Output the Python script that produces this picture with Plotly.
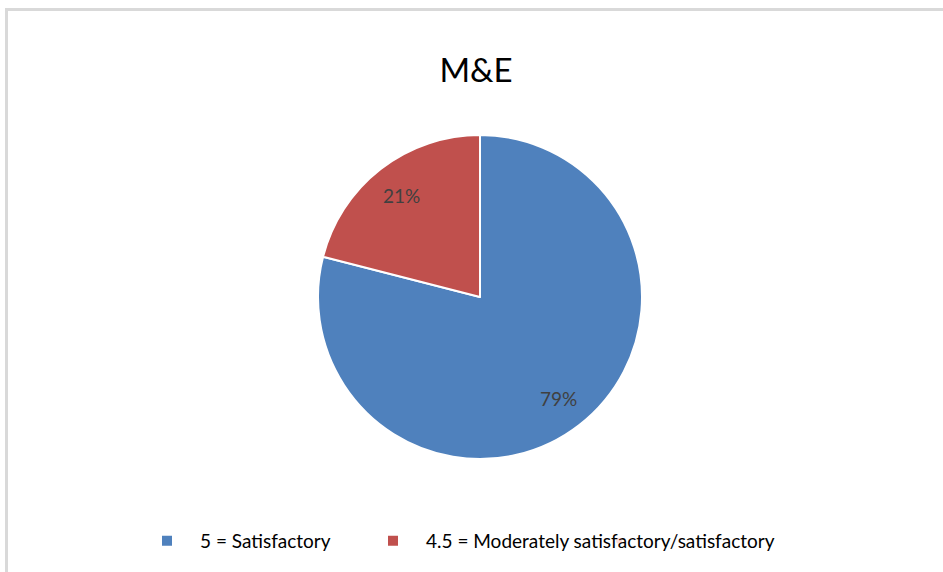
import math
import plotly.graph_objects as go

labels = ["5 = Satisfactory", "4.5 = Moderately satisfactory/satisfactory"]
values = [79, 21]
colors = ["#4F81BD", "#C0504D"]
title_text = "M&E"

W, H = 943, 572
cx, cy, R = 480, 297, 162  # pie centre and radius in pixels
FONT = "Lato, Carlito, sans-serif"

fig = go.Figure()
fig.add_trace(go.Pie(
    labels=labels,
    values=values,
    sort=False,
    direction="clockwise",
    rotation=0,
    marker=dict(colors=colors, line=dict(color="white", width=2)),
    textinfo="none",
    hoverinfo="label+percent",
    domain=dict(x=[(cx - R) / W, (cx + R) / W], y=[1 - (cy + R) / H, 1 - (cy - R) / H]),
))
# empty trailing legend entry so that the fixed-width legend does not clip the long label
fig.add_trace(go.Scatter(x=[None], y=[None], mode="markers", name="",
                         marker=dict(opacity=0), showlegend=True, hoverinfo="skip"))

# percentage labels placed along each slice's mid-angle
total = sum(values)
cum = 0
annotations = []
for v in values:
    mid = (cum + v / 2) / total * 2 * math.pi
    cum += v
    r = 0.79 * R
    px = cx + r * math.sin(mid)
    py = cy - r * math.cos(mid)
    annotations.append(dict(
        x=px / W, y=1 - py / H, xref="paper", yref="paper",
        text=f"{round(v / total * 100)}%", showarrow=False,
        font=dict(family=FONT, size=19, color="#404040"),
        xanchor="center", yanchor="middle",
    ))

fig.update_layout(
    width=W, height=H,
    margin=dict(l=0, r=0, t=0, b=0),
    paper_bgcolor="white",
    plot_bgcolor="white",
    xaxis=dict(visible=False),
    yaxis=dict(visible=False),
    title=dict(text=title_text, x=476 / W, y=1 - 70 / H, xanchor="center", yanchor="middle",
               xref="paper", yref="paper",
               font=dict(family=FONT, size=33, color="#000000")),
    showlegend=True,
    legend=dict(orientation="h", x=134 / W, y=1 - 541 / H, xanchor="left", yanchor="middle",
                itemwidth=56, entrywidth=155, entrywidthmode="pixels", traceorder="normal",
                font=dict(family=FONT, size=19, color="#000000"),
                bgcolor="rgba(0,0,0,0)"),
    annotations=annotations,
    shapes=[dict(type="rect", xref="paper", yref="paper",
                 x0=6.5 / W, y0=-0.1, x1=1.1, y1=1 - 9.5 / H,
                 line=dict(color="#D9D9D9", width=3), fillcolor="rgba(0,0,0,0)", layer="below")],
)

fig.write_html("out.html")
